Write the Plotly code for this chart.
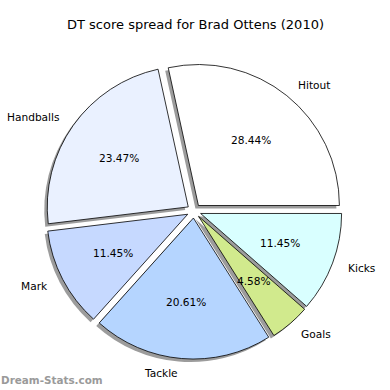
import math
import plotly.graph_objects as go

# ---- data ----
categories = ["Hitout", "Handballs", "Mark", "Tackle", "Goals", "Kicks"]
values = [149, 123, 60, 108, 24, 60]
colors = ["#FFFFFF", "#EAF1FF", "#C6D9FF", "#B5D5FF", "#D1EA8D", "#D9FFFF"]
title_text = "DT score spread for Brad Ottens (2010)"
watermark = "Dream-Stats.com"

# ---- geometry (pixels) ----
W = H = 390
CX, CY = 194.0, 211.0   # pie centre
R = 141.0               # pie radius
PULL = 0.05
SH = 3.0                # shadow offset

total = sum(values)
# plotly (counterclockwise) ends the first slice at `rotation`;
# start the first slice at 3 o'clock like matplotlib
rot = 90 - values[0] / total * 360

def dom(cx, cy):
    half = R * (1 + PULL)
    return dict(x=[(cx - half) / W, (cx + half) / W],
                y=[1 - (cy + half) / H, 1 - (cy - half) / H])

common = dict(values=values, labels=categories, sort=False,
              direction="counterclockwise", rotation=rot,
              pull=[PULL] * len(values), textinfo="none",
              hoverinfo="skip", showlegend=False)

fig = go.Figure()
fig.add_trace(go.Pie(**common, domain=dom(CX - SH, CY + SH),
                     marker=dict(colors=["#9C9C9C"] * len(values),
                                 line=dict(color="#9C9C9C", width=0))))
fig.add_trace(go.Pie(**common, domain=dom(CX, CY),
                     marker=dict(colors=colors,
                                 line=dict(color="#000000", width=0.8))))

# ---- labels computed from the values ----
annotations = []
cum = 0.0
font = dict(family="DejaVu Sans", size=10.6, color="#000000")
for cat, v in zip(categories, values):
    mid = (cum + v / 2) / total * 2 * math.pi
    cum += v
    ox = CX + PULL * R * math.cos(mid)
    oy = CY - PULL * R * math.sin(mid)
    lx = ox + 1.1 * R * math.cos(mid)
    ly = oy - 1.1 * R * math.sin(mid)
    px = ox + 0.6 * R * math.cos(mid)
    py = oy - 0.6 * R * math.sin(mid)
    annotations.append(dict(x=lx / W, y=1 - ly / H, xref="paper", yref="paper",
                            text=cat, showarrow=False, font=font,
                            xanchor="left" if math.cos(mid) > 0 else "right",
                            yanchor="middle"))
    annotations.append(dict(x=px / W, y=1 - py / H, xref="paper", yref="paper",
                            text=f"{v / total * 100:.2f}%", showarrow=False,
                            font=font, xanchor="center", yanchor="middle"))

annotations.append(dict(x=0.5, y=1 - 24 / H, xref="paper", yref="paper",
                        text=title_text, showarrow=False,
                        font=dict(family="DejaVu Sans", size=13, color="#000000"),
                        xanchor="center", yanchor="middle"))
annotations.append(dict(x=0, y=1 - 387 / H, xref="paper", yref="paper",
                        text="<b>" + watermark + "</b>", showarrow=False,
                        font=dict(family="DejaVu Sans", size=10.4, color="#9A9A9A"),
                        xanchor="left", yanchor="bottom", borderpad=0))

fig.update_layout(width=W, height=H, margin=dict(l=0, r=0, t=0, b=0),
                  paper_bgcolor="#FFFFFF", plot_bgcolor="#FFFFFF",
                  annotations=annotations)
fig.write_html("out.html", config={"displayModeBar": False},
               post_script="document.body.style.margin='0';"
                           "document.body.style.overflow='hidden';")
